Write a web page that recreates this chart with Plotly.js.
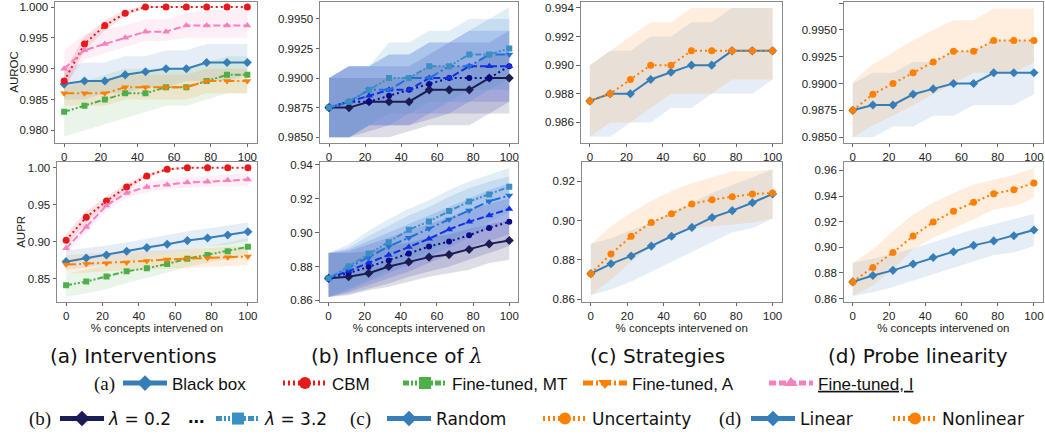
<!DOCTYPE html>
<html><head><meta charset="utf-8">
<script src="https://cdn.plot.ly/plotly-3.0.1.min.js"></script>
<style>html,body{margin:0;padding:0;background:#fff;} #chart{width:1045px;height:437px;}</style>
</head><body><div id="chart"></div>
<script>
// ---------------- DATA ----------------
const pct = [0, 11.1, 22.2, 33.3, 44.4, 55.6, 66.7, 77.8, 88.9, 100];
const xTickVals = [0, 20, 40, 60, 80, 100];

// (a) Interventions - AUROC
const bbAuroc   = [0.9875,0.988,0.988,0.989,0.9895,0.990,0.990,0.991,0.991,0.991];
const bbAurocLo = [0.985,0.985,0.986,0.986,0.987,0.987,0.988,0.988,0.988,0.989];
const bbAurocHi = [0.990,0.991,0.991,0.992,0.992,0.993,0.993,0.994,0.994,0.994];
const cbmAuroc   = [0.988,0.994,0.997,0.999,1.000,1.000,1.000,1.000,1.000,1.000];
const cbmAurocLo = [0.9865,0.993,0.9962,0.9985,0.9998,0.9999,1.000,1.000,1.000,1.000];
const cbmAurocHi = [0.9895,0.9952,0.9978,0.9995,1.0002,1.0001,1.000,1.000,1.000,1.000];
const mtAuroc   = [0.983,0.984,0.985,0.986,0.986,0.987,0.987,0.988,0.989,0.989];
const mtAurocLo = [0.979,0.980,0.981,0.982,0.983,0.984,0.984,0.985,0.986,0.986];
const mtAurocHi = [0.987,0.988,0.989,0.990,0.990,0.990,0.990,0.991,0.992,0.992];
const aAuroc   = [0.986,0.986,0.986,0.987,0.987,0.987,0.987,0.988,0.988,0.988];
const aAurocLo = [0.984,0.984,0.984,0.985,0.985,0.985,0.985,0.986,0.986,0.986];
const aAurocHi = [0.988,0.988,0.988,0.989,0.989,0.989,0.989,0.990,0.990,0.990];
const iAuroc   = [0.990,0.993,0.994,0.995,0.996,0.996,0.997,0.997,0.997,0.997];
const iAurocLo = [0.987,0.9915,0.9925,0.9935,0.9945,0.9945,0.995,0.995,0.995,0.995];
const iAurocHi = [0.993,0.9955,0.9965,0.997,0.998,0.998,0.999,0.9995,0.9995,1.000];

// (a) Interventions - AUPR
const bbAupr   = [0.873,0.878,0.882,0.887,0.892,0.8965,0.9015,0.905,0.909,0.9135];
const bbAuprLo = [0.862,0.865,0.869,0.874,0.879,0.884,0.889,0.894,0.896,0.901];
const bbAuprHi = [0.888,0.891,0.895,0.899,0.904,0.909,0.914,0.918,0.922,0.926];
const cbmAupr   = [0.902,0.933,0.955,0.974,0.989,0.998,1.000,1.000,1.000,1.000];
const cbmAuprLo = [0.895,0.926,0.950,0.970,0.986,0.996,0.999,1.000,1.000,1.000];
const cbmAuprHi = [0.910,0.941,0.961,0.979,0.992,1.000,1.001,1.000,1.000,1.000];
const mtAupr   = [0.841,0.846,0.853,0.860,0.864,0.870,0.877,0.882,0.887,0.893];
const mtAuprLo = [0.826,0.830,0.836,0.844,0.851,0.858,0.866,0.872,0.877,0.882];
const mtAuprHi = [0.856,0.862,0.869,0.875,0.879,0.884,0.889,0.894,0.899,0.905];
const aAupr   = [0.869,0.870,0.871,0.872,0.874,0.876,0.877,0.878,0.879,0.880];
const aAuprLo = [0.857,0.858,0.860,0.861,0.862,0.863,0.865,0.866,0.867,0.868];
const aAuprHi = [0.882,0.884,0.885,0.886,0.887,0.889,0.890,0.891,0.893,0.894];
const iAupr   = [0.891,0.920,0.949,0.966,0.974,0.977,0.980,0.981,0.983,0.984];
const iAuprLo = [0.884,0.912,0.942,0.959,0.967,0.971,0.973,0.974,0.975,0.975];
const iAuprHi = [0.900,0.930,0.957,0.973,0.981,0.985,0.988,0.989,0.991,0.993];

// (b) Influence of lambda - AUROC
const l02Auroc   = [0.9875,0.9875,0.988,0.988,0.988,0.989,0.989,0.989,0.990,0.990];
const l02AurocLo = [0.985,0.985,0.985,0.985,0.9855,0.986,0.986,0.986,0.987,0.987];
const l02AurocHi = [0.990,0.990,0.990,0.990,0.990,0.991,0.991,0.991,0.992,0.992];
const l04Auroc   = [0.9875,0.988,0.988,0.9885,0.989,0.9895,0.990,0.990,0.990,0.991];
const l04AurocLo = [0.985,0.985,0.9855,0.986,0.986,0.9865,0.987,0.987,0.987,0.988];
const l04AurocHi = [0.990,0.991,0.991,0.991,0.991,0.992,0.993,0.993,0.993,0.994];
const l08Auroc   = [0.9875,0.988,0.9885,0.989,0.989,0.990,0.990,0.991,0.991,0.991];
const l08AurocLo = [0.985,0.985,0.986,0.986,0.986,0.987,0.987,0.988,0.988,0.988];
const l08AurocHi = [0.990,0.991,0.991,0.992,0.992,0.993,0.993,0.994,0.994,0.994];
const l16Auroc   = [0.9875,0.988,0.989,0.989,0.990,0.990,0.991,0.991,0.992,0.992];
const l16AurocLo = [0.985,0.985,0.986,0.986,0.987,0.987,0.988,0.988,0.989,0.989];
const l16AurocHi = [0.990,0.991,0.991,0.992,0.992,0.993,0.993,0.994,0.995,0.995];
const l32Auroc   = [0.9875,0.988,0.989,0.990,0.990,0.991,0.991,0.992,0.992,0.9925];
const l32AurocLo = [0.985,0.985,0.986,0.987,0.987,0.988,0.988,0.989,0.989,0.990];
const l32AurocHi = [0.990,0.991,0.991,0.993,0.993,0.994,0.994,0.995,0.995,0.996];

// (b) Influence of lambda - AUPR
const l02Aupr   = [0.873,0.874,0.876,0.880,0.8827,0.8855,0.887,0.890,0.8933,0.8953];
const l02AuprLo = [0.862,0.863,0.866,0.868,0.871,0.874,0.876,0.878,0.882,0.884];
const l02AuprHi = [0.888,0.888,0.889,0.892,0.894,0.897,0.899,0.902,0.905,0.907];
const l04Aupr   = [0.873,0.8761,0.8798,0.8835,0.8876,0.8918,0.8947,0.8984,0.9027,0.9063];
const l04AuprLo = [0.862,0.864,0.867,0.870,0.874,0.877,0.880,0.884,0.888,0.892];
const l04AuprHi = [0.888,0.889,0.893,0.897,0.901,0.905,0.909,0.913,0.917,0.920];
const l08Aupr   = [0.873,0.8773,0.8822,0.8867,0.8914,0.8963,0.9018,0.9063,0.910,0.9139];
const l08AuprLo = [0.862,0.865,0.869,0.873,0.877,0.882,0.887,0.891,0.895,0.899];
const l08AuprHi = [0.888,0.890,0.895,0.900,0.905,0.910,0.915,0.920,0.925,0.929];
const l16Aupr   = [0.873,0.8792,0.8851,0.8918,0.8969,0.9024,0.9076,0.9129,0.9184,0.9218];
const l16AuprLo = [0.862,0.866,0.871,0.876,0.881,0.886,0.891,0.897,0.902,0.907];
const l16AuprHi = [0.888,0.891,0.898,0.904,0.910,0.915,0.921,0.926,0.930,0.933];
const l32Aupr   = [0.873,0.8802,0.8876,0.8943,0.9016,0.9065,0.9126,0.9182,0.9224,0.9269];
const l32AuprLo = [0.862,0.867,0.872,0.878,0.884,0.889,0.895,0.901,0.906,0.912];
const l32AuprHi = [0.888,0.893,0.901,0.908,0.914,0.919,0.925,0.930,0.934,0.938];

// (c) Strategies (Random = black-box baseline arrays above)
const uncAuroc   = [0.9875,0.988,0.989,0.990,0.990,0.991,0.991,0.991,0.991,0.991];
const uncAurocLo = [0.985,0.986,0.986,0.987,0.988,0.988,0.988,0.989,0.989,0.989];
const uncAurocHi = [0.990,0.991,0.992,0.993,0.993,0.994,0.994,0.994,0.994,0.994];
const uncAupr   = [0.873,0.883,0.892,0.899,0.9034,0.9084,0.9106,0.912,0.9134,0.914];
const uncAuprLo = [0.862,0.870,0.879,0.887,0.892,0.896,0.897,0.898,0.899,0.901];
const uncAuprHi = [0.888,0.897,0.904,0.910,0.915,0.919,0.922,0.925,0.925,0.926];

// (d) Probe linearity (Linear = black-box baseline arrays above)
const nlAuroc   = [0.9875,0.989,0.990,0.991,0.992,0.993,0.993,0.994,0.994,0.994];
const nlAurocLo = [0.985,0.9861,0.987,0.988,0.989,0.990,0.991,0.991,0.991,0.992];
const nlAurocHi = [0.9902,0.9918,0.9929,0.994,0.995,0.9959,0.9959,0.997,0.997,0.997];
const nlAupr   = [0.873,0.8843,0.896,0.9088,0.9197,0.9282,0.9352,0.9419,0.945,0.9502];
const nlAuprLo = [0.862,0.870,0.883,0.8985,0.9075,0.915,0.922,0.9295,0.932,0.9385];
const nlAuprHi = [0.888,0.8985,0.9127,0.9256,0.9347,0.9424,0.949,0.9528,0.9566,0.9618];

// y tick values
const yTicksA1 = [0.980,0.985,0.990,0.995,1.000];
const yTicksA2 = [0.85,0.90,0.95,1.00];
const yTicksB1 = [0.9850,0.9875,0.9900,0.9925,0.9950];
const yTicksB2 = [0.86,0.88,0.90,0.92,0.94];
const yTicksC1 = [0.986,0.988,0.990,0.992,0.994];
const yTicksC2 = [0.86,0.88,0.90,0.92];
const yTicksD1 = [0.9850,0.9875,0.9900,0.9925,0.9950,0.9975];
const yTicksD2 = [0.86,0.88,0.90,0.92,0.94,0.96];

// ---------------- STYLES ----------------
const C = {blue:'#377eb8', red:'#e41a1c', green:'#4daf4a', orange:'#ff7f00', pink:'#f781bf',
  l02:'#1c1c54', l04:'#0b0b8a', l08:'#1030e6', l16:'#2070d8', l32:'#3a8fc4'};
const ST = {
  bb:  {color:C.blue, dash:'solid', symbol:'diamond', size:7},
  cbm: {color:C.red, dash:'2px,3px', symbol:'circle', size:7},
  mt:  {color:C.green, dash:'6px,2px,2px,2px,2px,2px', symbol:'square', size:6},
  a:   {color:C.orange, dash:'10px,3px,2px,3px', symbol:'triangle-down', size:7},
  i:   {color:C.pink, dash:'7px,3px', symbol:'triangle-up', size:7},
  l02: {color:C.l02, dash:'solid', symbol:'diamond', size:7},
  l04: {color:C.l04, dash:'2px,3px', symbol:'circle', size:6},
  l08: {color:C.l08, dash:'7px,3px', symbol:'triangle-up', size:7},
  l16: {color:C.l16, dash:'10px,3px,2px,3px', symbol:'triangle-down', size:7},
  l32: {color:C.l32, dash:'6px,2px,2px,2px,2px,2px', symbol:'square', size:6},
  unc: {color:C.orange, dash:'2px,3px', symbol:'circle', size:7}
};
function rgba(hex, a){const n=parseInt(hex.slice(1),16);return `rgba(${n>>16},${(n>>8)&255},${n&255},${a})`;}

const traces = [];
function band(k, lo, hi, st, alpha){
  traces.push({type:'scatter', mode:'lines', x:pct.concat(pct.slice().reverse()),
    y:hi.concat(lo.slice().reverse()), xaxis:'x'+(k===1?'':k), yaxis:'y'+(k===1?'':k),
    fill:'toself', fillcolor:rgba(st.color, alpha), line:{width:0}, hoverinfo:'skip', showlegend:false});
}
function series(k, y, st, name, legendId){
  const t = {type:'scatter', mode:'lines+markers', x:pct, y:y, name:name,
    xaxis:'x'+(k===1?'':k), yaxis:'y'+(k===1?'':k),
    line:{color:st.color, width:2, dash:st.dash},
    marker:{color:st.color, symbol:st.symbol, size:st.size, line:{width:0}},
    showlegend:!!legendId};
  if(legendId) t.legend = legendId;
  traces.push(t);
}

const BA = 0.13, BB = 0.15;
// panel (a) top
band(1, bbAurocLo, bbAurocHi, ST.bb, BA);
band(1, cbmAurocLo, cbmAurocHi, ST.cbm, BA);
band(1, mtAurocLo, mtAurocHi, ST.mt, BA);
band(1, aAurocLo, aAurocHi, ST.a, BA);
band(1, iAurocLo, iAurocHi, ST.i, BA);
series(1, bbAuroc, ST.bb, 'Black box', 'legend');
series(1, cbmAuroc, ST.cbm, 'CBM', 'legend2');
series(1, mtAuroc, ST.mt, 'Fine-tuned, MT', 'legend3');
series(1, aAuroc, ST.a, 'Fine-tuned, A', 'legend4');
series(1, iAuroc, ST.i, '<u>Fine-tuned, I</u>', 'legend5');
// panel (a) bottom
band(2, bbAuprLo, bbAuprHi, ST.bb, BA);
band(2, cbmAuprLo, cbmAuprHi, ST.cbm, BA);
band(2, mtAuprLo, mtAuprHi, ST.mt, BA);
band(2, aAuprLo, aAuprHi, ST.a, BA);
band(2, iAuprLo, iAuprHi, ST.i, BA);
series(2, bbAupr, ST.bb);
series(2, cbmAupr, ST.cbm);
series(2, mtAupr, ST.mt);
series(2, aAupr, ST.a);
series(2, iAupr, ST.i);
// panel (b) top
band(3, l02AurocLo, l02AurocHi, ST.l02, BB);
band(3, l04AurocLo, l04AurocHi, ST.l04, BB);
band(3, l08AurocLo, l08AurocHi, ST.l08, BB);
band(3, l16AurocLo, l16AurocHi, ST.l16, BB);
band(3, l32AurocLo, l32AurocHi, ST.l32, BB);
series(3, l02Auroc, ST.l02, '<i>λ</i> = 0.2', 'legend6');
series(3, l04Auroc, ST.l04);
series(3, l08Auroc, ST.l08);
series(3, l16Auroc, ST.l16);
series(3, l32Auroc, ST.l32, '<i>λ</i> = 3.2', 'legend7');
// panel (b) bottom
band(4, l02AuprLo, l02AuprHi, ST.l02, BB);
band(4, l04AuprLo, l04AuprHi, ST.l04, BB);
band(4, l08AuprLo, l08AuprHi, ST.l08, BB);
band(4, l16AuprLo, l16AuprHi, ST.l16, BB);
band(4, l32AuprLo, l32AuprHi, ST.l32, BB);
series(4, l02Aupr, ST.l02);
series(4, l04Aupr, ST.l04);
series(4, l08Aupr, ST.l08);
series(4, l16Aupr, ST.l16);
series(4, l32Aupr, ST.l32);
// panel (c)
band(5, bbAurocLo, bbAurocHi, ST.bb, BA);
band(5, uncAurocLo, uncAurocHi, ST.unc, BA);
series(5, bbAuroc, ST.bb, 'Random', 'legend8');
series(5, uncAuroc, ST.unc, 'Uncertainty', 'legend9');
band(6, bbAuprLo, bbAuprHi, ST.bb, BA);
band(6, uncAuprLo, uncAuprHi, ST.unc, BA);
series(6, bbAupr, ST.bb);
series(6, uncAupr, ST.unc);
// panel (d)
band(7, bbAurocLo, bbAurocHi, ST.bb, BA);
band(7, nlAurocLo, nlAurocHi, ST.unc, BA);
series(7, bbAuroc, ST.bb, 'Linear', 'legend10');
series(7, nlAuroc, ST.unc, 'Nonlinear', 'legend11');
band(8, bbAuprLo, bbAuprHi, ST.bb, BA);
band(8, nlAuprLo, nlAuprHi, ST.unc, BA);
series(8, bbAupr, ST.bb);
series(8, nlAupr, ST.unc);

// ---------------- LAYOUT ----------------
const W = 1045, H = 437;
const tickFont = {family:'Liberation Sans, Arial, sans-serif', size:11.5, color:'#222'};
const axisTitleFont = {family:'Liberation Sans, Arial, sans-serif', size:11.5, color:'#222'};
function px(a,b){return [a/W, b/W];}
function py(top,bot){return [(H-bot)/H, (H-top)/H];}
function xAxis(dom, anchor, title){
  const o = {domain:dom, anchor:anchor, range:[-5,105], tickmode:'array', tickvals:xTickVals,
    ticks:'outside', ticklen:3.5, tickcolor:'#666', showline:true, mirror:true, linecolor:'#8a8a8a',
    linewidth:1, showgrid:false, zeroline:false, tickfont:tickFont, fixedrange:true};
  if(title) o.title = {text:'% concepts intervened on', font:axisTitleFont, standoff:1};
  return o;
}
function yAxis(dom, anchor, range, tv, fmt){
  return {domain:dom, anchor:anchor, range:range, tickmode:'array', tickvals:tv, tickformat:fmt,
    ticks:'outside', ticklen:3.5, tickcolor:'#666', showline:true, mirror:true, linecolor:'#8a8a8a',
    linewidth:1, showgrid:false, zeroline:false, tickfont:tickFont, fixedrange:true};
}
const rowTop = py(1.8, 144.5), rowBot = py(163.7, 305.3);

const legFont1 = {family:'Liberation Sans, Arial, sans-serif', size:17, color:'#111'};
const legFont2 = {family:'DejaVu Sans, sans-serif', size:17, color:'#111'};
function leg(x0, yc, font){
  return {x:x0/W, xanchor:'left', y:(H-yc)/H, yanchor:'middle', orientation:'h',
    bgcolor:'rgba(0,0,0,0)', borderwidth:0, itemwidth:44, itemsizing:'constant',
    font:font, itemclick:false, itemdoubleclick:false};
}
const R1 = 388, R2 = 424;

const capFont = {family:'DejaVu Sans, sans-serif', size:20, color:'#111'};
const serifFont = {family:'Liberation Serif, serif', size:19, color:'#111'};
function ann(text, x, y, font, angle){
  const a = {text:text, x:x/W, y:(H-y)/H, xref:'paper', yref:'paper', showarrow:false,
    xanchor:'center', yanchor:'middle', font:font};
  if(angle) a.textangle = angle;
  return a;
}

const layout = {
  width:W, height:H, margin:{l:0,r:0,t:0,b:0}, paper_bgcolor:'#fff', plot_bgcolor:'#fff',
  showlegend:true,
  xaxis:  xAxis(px(55,256.5), 'y'),
  yaxis:  yAxis(rowTop, 'x', [0.97797,1.00085], yTicksA1, '.3f'),
  xaxis2: xAxis(px(57,257), 'y2', true),
  yaxis2: yAxis(rowBot, 'x2', [0.8187,1.008], yTicksA2, '.2f'),
  xaxis3: xAxis(px(320,518.3), 'y3'),
  yaxis3: yAxis(rowTop, 'x3', [0.98452,0.99645], yTicksB1, '.4f'),
  xaxis4: xAxis(px(319.5,518.3), 'y4', true),
  yaxis4: yAxis(rowBot, 'x4', [0.8592,0.9416], yTicksB2, '.2f'),
  xaxis5: xAxis(px(580.7,781.7), 'y5'),
  yaxis5: yAxis(rowTop, 'x5', [0.98457,0.99443], yTicksC1, '.3f'),
  xaxis6: xAxis(px(581.7,781.7), 'y6', true),
  yaxis6: yAxis(rowBot, 'x6', [0.8587,0.9298], yTicksC2, '.2f'),
  xaxis7: xAxis(px(843.7,1043), 'y7'),
  yaxis7: yAxis(rowTop, 'x7', [0.98447,0.99762], yTicksD1, '.4f'),
  xaxis8: xAxis(px(843.7,1043), 'y8', true),
  yaxis8: yAxis(rowBot, 'x8', [0.85744,0.96674], yTicksD2, '.2f'),
  legend:   leg(118, R1, legFont1),
  legend2:  leg(278, R1, legFont1),
  legend3:  leg(398, R1, legFont1),
  legend4:  leg(578, R1, legFont1),
  legend5:  leg(764, R1, legFont1),
  legend6:  leg(55, R2, legFont2),
  legend7:  leg(211, R2, legFont2),
  legend8:  leg(382, R2, legFont2),
  legend9:  leg(538, R2, legFont2),
  legend10: leg(746, R2, legFont2),
  legend11: leg(888, R2, legFont2),
  annotations: [
    ann('AUROC', 14.5, 73, axisTitleFont, -90),
    ann('AUPR', 21, 234.5, axisTitleFont, -90),
    ann('(a) Interventions', 133, 360, capFont),
    ann('(b) Influence of <span style="font-family:\'DejaVu Serif\'"><i>λ</i></span>', 396, 360, capFont),
    ann('(c) Strategies', 657, 360, capFont),
    ann('(d) Probe linearity', 918, 360, capFont),
    ann('(a)', 104.5, R1, serifFont),
    ann('(b)', 40, R2, serifFont),
    ann('<b>...</b>', 196, R2 - 3, {family:'Liberation Sans, Arial, sans-serif', size:20, color:'#111'}),
    ann('(c)', 360, R2, serifFont),
    ann('(d)', 730, R2, serifFont)
  ]
};

Plotly.newPlot('chart', traces, layout, {displayModeBar:false, staticPlot:true});
</script>
</body></html>
